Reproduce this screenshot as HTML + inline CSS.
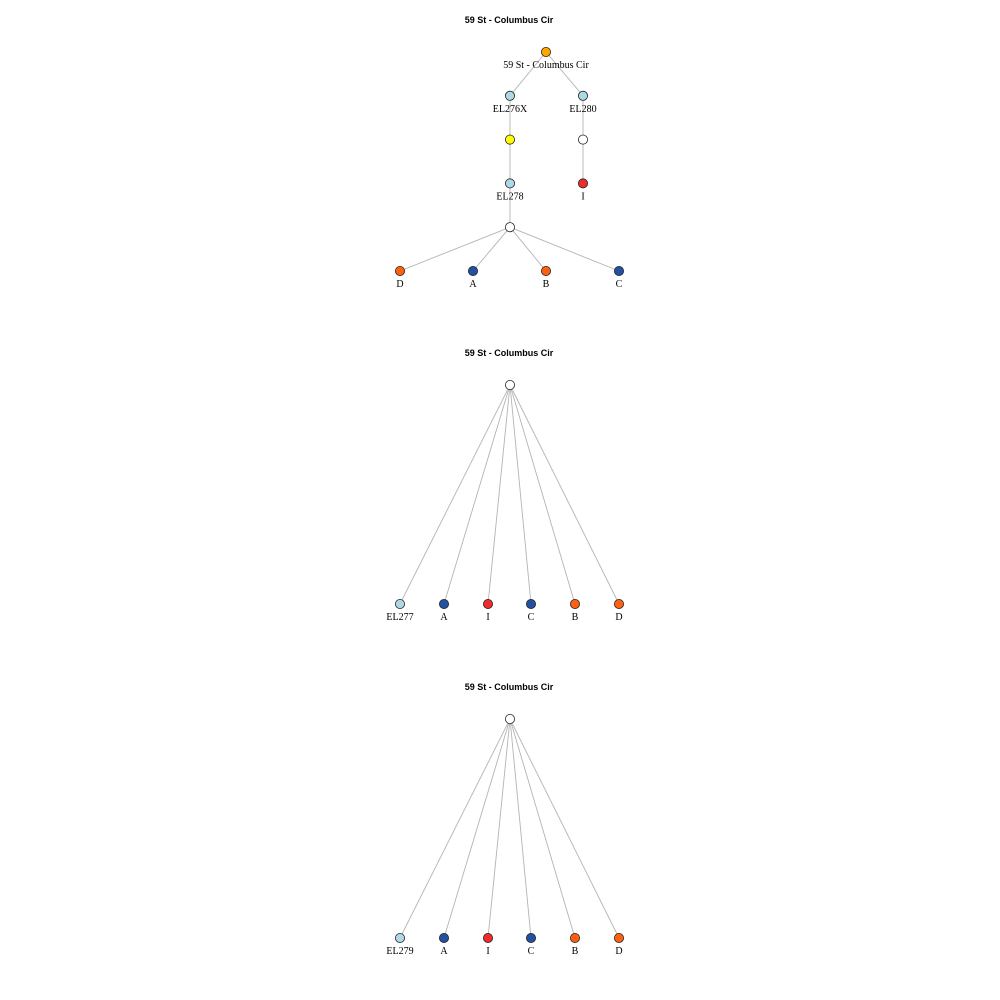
<!DOCTYPE html>
<html>
<head>
<meta charset="utf-8">
<style>
  html,body{margin:0;padding:0;background:#fff;}
  svg{display:block;}
  .title{font-family:"Liberation Sans",sans-serif;font-size:9px;font-weight:bold;}
  .lbl{font-family:"Liberation Serif",serif;font-size:10px;}
</style>
</head>
<body>
<svg id="chart" width="1000" height="1000" viewBox="0 0 1000 1000"></svg>
<script>
const panelTitles = ["59 St - Columbus Cir", "59 St - Columbus Cir", "59 St - Columbus Cir"];
const panelTitleY = [23, 356, 690];

const nodeIds   = ["root","el276x","el280","yel","wh1","el278","one1","wh2","d1","a1","b1","c1",
                   "r2","el277","a2","i2","c2","b2","d2",
                   "r3","el279","a3","i3","c3","b3","d3"];
const nodePanel = [0,0,0,0,0,0,0,0,0,0,0,0, 1,1,1,1,1,1,1, 2,2,2,2,2,2,2];
const nodeX     = [546,510,583,510,583,510,583,510,400,473,546,619,
                   510,400,444,488,531,575,619,
                   510,400,444,488,531,575,619];
const nodeLevel = [0,1,1,2,2,3,3,4,5,5,5,5, 0,5,5,5,5,5,5, 0,5,5,5,5,5,5];
const nodeColor = ["orange","lb","lb","yellow","white","lb","red","white","or","bl","or","bl",
                   "white","lb","bl","red","bl","or","or",
                   "white","lb","bl","red","bl","or","or"];
const nodeLabel = ["59 St - Columbus Cir","EL276X","EL280","","","EL278","I","","D","A","B","C",
                   "","EL277","A","I","C","B","D",
                   "","EL279","A","I","C","B","D"];
const edgeFrom = [0,0,1,3,2,4,5,7,7,7,7, 12,12,12,12,12,12, 19,19,19,19,19,19];
const edgeTo   = [1,2,3,5,4,6,7,8,9,10,11, 13,14,15,16,17,18, 20,21,22,23,24,25];

const colors = {orange:"#FFA500", lb:"#ADD8E6", yellow:"#FFFF00", white:"#FFFFFF",
                red:"#EE2C2C", bl:"#2350A0", or:"#FF6010"};
const panelTop = [52, 385, 719];
const levelStep = [43.8, 43.8, 43.8];
function yPos(panel, level){ return panelTop[panel] + level * levelStep[panel]; }
function pos(i){ return [nodeX[i], yPos(nodePanel[i], nodeLevel[i])]; }

const svg = document.getElementById('chart');
const NS = "http://www.w3.org/2000/svg";

panelTitles.forEach((t,p)=>{
  const el = document.createElementNS(NS,'text');
  
  
  el.setAttribute('x', 509); el.setAttribute('y', panelTitleY[p]);
  el.setAttribute('text-anchor','middle'); el.setAttribute('class','title');
  el.textContent = t; svg.appendChild(el);
});

edgeFrom.forEach((f,k)=>{
  const a = pos(f), b = pos(edgeTo[k]);
  const l = document.createElementNS(NS,'line');
  
  
  l.setAttribute('x1',a[0]); l.setAttribute('y1',a[1]);
  l.setAttribute('x2',b[0]); l.setAttribute('y2',b[1]);
  l.setAttribute('stroke','#b4b4b4'); l.setAttribute('stroke-width','0.9');
  svg.appendChild(l);
});

nodeIds.forEach((id,i)=>{
  const p = pos(i);
  const c = document.createElementNS(NS,'circle');
  
  
  c.setAttribute('cx',p[0]); c.setAttribute('cy',p[1]); c.setAttribute('r',4.6);
  c.setAttribute('fill',colors[nodeColor[i]]); c.setAttribute('stroke','#222');
  c.setAttribute('stroke-width','0.8');
  svg.appendChild(c);
  if(nodeLabel[i]){
    const t = document.createElementNS(NS,'text');
    
    
    t.setAttribute('x',p[0]); t.setAttribute('y',p[1]+16);
    t.setAttribute('text-anchor','middle'); t.setAttribute('class','lbl');
    t.textContent = nodeLabel[i]; svg.appendChild(t);
  }
});
</script>
</body>
</html>
